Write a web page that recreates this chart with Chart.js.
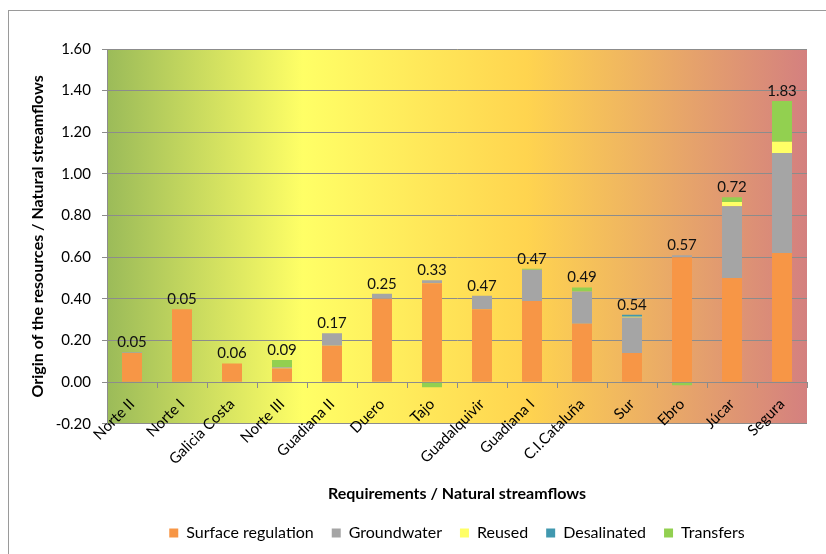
<!DOCTYPE html>
<html>
<head>
<meta charset="utf-8">
<script src="https://cdn.jsdelivr.net/npm/chart.js@4/dist/chart.umd.min.js"></script>
<style>
  html, body { margin: 0; padding: 0; background: #fff; }
  #wrap { position: relative; width: 826px; height: 554px; }
</style>
</head>
<body>
<div id="wrap"><canvas id="chart"></canvas></div>
<script>
// River basin districts
const categories = ['Norte II', 'Norte I', 'Galicia Costa', 'Norte III', 'Guadiana II', 'Duero', 'Tajo',
  'Guadalquivir', 'Guadiana I', 'C.I.Cataluña', 'Sur', 'Ebro', 'Júcar', 'Segura'];

// Origin of the resources / natural streamflows, by source
const surfaceRegulation = [0.14, 0.35, 0.09, 0.065, 0.175, 0.40, 0.475, 0.35, 0.39, 0.28, 0.14, 0.60, 0.50, 0.62];
const groundwater       = [0.004, 0, 0, 0.006, 0.06, 0.025, 0.015, 0.065, 0.15, 0.155, 0.17, 0.01, 0.345, 0.48];
const reused            = [0, 0, 0, 0, 0, 0, 0, 0, 0, 0, 0.004, 0, 0.02, 0.055];
const desalinated       = [0, 0, 0, 0, 0, 0, 0, 0, 0, 0, 0.01, 0, 0, 0];
const transfers         = [0, 0, 0, 0.035, 0, 0, -0.025, 0, 0.005, 0.02, 0, -0.015, 0.023, 0.195];

// Requirements / natural streamflows, written above each column
const requirementRatios = [0.05, 0.05, 0.06, 0.09, 0.17, 0.25, 0.33, 0.47, 0.47, 0.49, 0.54, 0.57, 0.72, 1.83];

// Value axis ticks
const yTickValues = [-0.20, 0.00, 0.20, 0.40, 0.60, 0.80, 1.00, 1.20, 1.40, 1.60];

const FONT = 'Lato, "Liberation Sans", sans-serif';
const GRID = '#8c8c8c';

// White page, outer frame and the green-yellow-red plot backdrop
const backdropPlugin = {
  id: 'backdrop',
  beforeDraw(chart) {
    const { ctx, chartArea: a } = chart;
    ctx.save();
    ctx.fillStyle = '#fff';
    ctx.fillRect(0, 0, chart.width, chart.height);
    ctx.strokeStyle = '#9a9a9a';
    ctx.lineWidth = 1;
    ctx.strokeRect(8.5, 10.5, chart.width + 20, chart.height + 20);

    const g = ctx.createLinearGradient(a.left, 0, a.right, 0);
    g.addColorStop(0, '#9bbb59');
    g.addColorStop(0.28, '#ffff66');
    g.addColorStop(0.6, '#ffd44f');
    g.addColorStop(1, '#d4807f');
    ctx.fillStyle = g;
    ctx.fillRect(a.left, a.top, a.right - a.left, a.bottom - a.top);
    ctx.restore();
  }
};

// Requirement ratio above the top of each stacked column
const ratioLabelPlugin = {
  id: 'ratioLabels',
  afterDatasetsDraw(chart) {
    const { ctx } = chart;
    const y = chart.scales.y;
    const x = chart.scales.x;
    ctx.save();
    ctx.font = '15px ' + FONT;
    ctx.fillStyle = '#111';
    ctx.textAlign = 'center';
    ctx.textBaseline = 'middle';
    categories.forEach((c, i) => {
      let top = 0;
      chart.data.datasets.forEach(ds => { if (ds.data[i] > 0) top += ds.data[i]; });
      ctx.fillText(requirementRatios[i].toFixed(2), x.getPixelForValue(i), y.getPixelForValue(top) - 10);
    });
    ctx.restore();
  }
};

new Chart(document.getElementById('chart'), {
  type: 'bar',
  data: {
    labels: categories,
    datasets: [
      { label: 'Surface regulation', data: surfaceRegulation, backgroundColor: '#f79646' },
      { label: 'Groundwater', data: groundwater, backgroundColor: '#a5a5a5' },
      { label: 'Reused', data: reused, backgroundColor: '#ffff66' },
      { label: 'Desalinated', data: desalinated, backgroundColor: '#4198af' },
      { label: 'Transfers', data: transfers, backgroundColor: '#92d050' }
    ]
  },
  options: {
    responsive: true,
    maintainAspectRatio: false,
    animation: false,
    layout: { padding: { left: 8, right: 19, top: 49, bottom: 3 } },
    datasets: { bar: { categoryPercentage: 1, barPercentage: 0.4, borderWidth: 0 } },
    scales: {
      x: {
        stacked: true,
        position: { y: 0 },
        grid: { drawOnChartArea: false, drawTicks: true, tickLength: 5, color: GRID, offset: true },
        border: { display: true, color: GRID, width: 1 },
        ticks: {
          minRotation: 45, maxRotation: 45, autoSkip: false, padding: 8,
          color: '#000', font: { family: FONT, size: 15 }
        }
      },
      y: {
        stacked: true,
        min: yTickValues[0],
        max: yTickValues[yTickValues.length - 1],
        afterBuildTicks(scale) { scale.ticks = yTickValues.map(v => ({ value: v })); },
        afterFit(scale) { scale.width = 99; },
        grid: { color: GRID, drawTicks: true, tickLength: 5 },
        border: { display: true, color: GRID, width: 1 },
        ticks: {
          padding: 11, color: '#000', font: { family: FONT, size: 15 },
          callback: v => Number(v).toFixed(2)
        },
        title: {
          display: true, text: 'Origin of the resources / Natural streamflows',
          color: '#000', font: { family: FONT, size: 16, weight: 'bold' },
          padding: { top: 20, bottom: 0 }
        }
      }
    },
    plugins: {
      title: {
        display: true, position: 'bottom', fullSize: false, weight: 500,
        text: 'Requirements / Natural streamflows',
        color: '#000', font: { family: FONT, size: 16, weight: 'bold' },
        padding: { top: 60, bottom: 4 }
      },
      legend: {
        position: 'bottom', fullSize: false,
        labels: {
          boxWidth: 9, boxHeight: 9, padding: 18,
          color: '#000', font: { family: FONT, size: 16 }
        }
      },
      tooltip: { enabled: false }
    }
  },
  plugins: [backdropPlugin, ratioLabelPlugin]
});
</script>
</body>
</html>
